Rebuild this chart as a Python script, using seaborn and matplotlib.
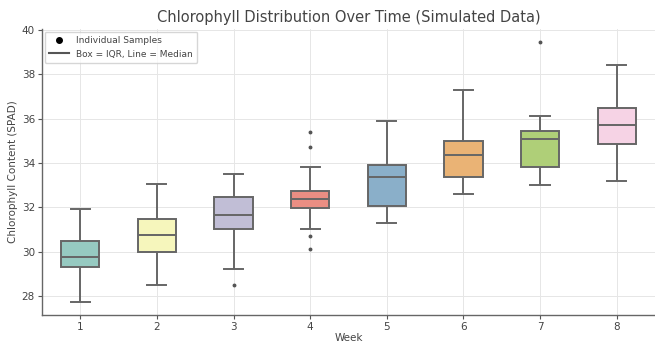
import matplotlib
matplotlib.use("Agg")
import matplotlib.pyplot as plt
from matplotlib.lines import Line2D
import seaborn as sns
import pandas as pd

weeks = [1, 2, 3, 4, 5, 6, 7, 8]
week1 = [27.73, 29.0, 29.32, 29.5, 29.75, 30.1, 30.47, 31.2, 31.92]
week2 = [28.48, 29.5, 29.98, 30.4, 30.77, 31.1, 31.47, 32.2, 33.05]
week3 = [28.48, 29.24, 31.03, 31.3, 31.65, 32.0, 32.49, 33.0, 33.5]
week4 = [30.13, 30.70, 31.03, 31.97, 32.1, 32.25, 32.40, 32.55, 32.65, 32.75, 33.84, 34.71, 35.38]
week5 = [31.30, 31.8, 32.07, 32.8, 33.35, 33.6, 33.93, 34.9, 35.88]
week6 = [32.60, 33.0, 33.35, 33.9, 34.38, 34.7, 34.98, 36.0, 37.29]
week7 = [33.02, 33.5, 33.81, 34.5, 35.09, 35.3, 35.46, 36.13, 39.46]
week8 = [33.20, 34.3, 34.86, 35.3, 35.73, 36.1, 36.46, 37.5, 38.43]
samples = [week1, week2, week3, week4, week5, week6, week7, week8]

rows = []
for w, vals in zip(weeks, samples):
    for v in vals:
        rows.append({"Week": w, "Chlorophyll": v})
df = pd.DataFrame(rows)

fig = plt.figure(figsize=(6.55, 3.44), dpi=100)
ax = fig.add_axes([0.064, 0.084, 0.936, 0.832])

sns.boxplot(data=df, x="Week", y="Chlorophyll", hue="Week", palette="Set3",
            legend=False, width=0.5, linewidth=1.4, linecolor="#666666",
            flierprops=dict(marker="o", markersize=1.8, markerfacecolor="#555555",
                            markeredgecolor="#555555"),
            ax=ax)

ax.grid(True, color="#e6e6e6", linewidth=0.7, linestyle="-")
ax.set_axisbelow(True)
for s in ["top", "right"]:
    ax.spines[s].set_visible(False)
for s in ["left", "bottom"]:
    ax.spines[s].set_color("#666666")
    ax.spines[s].set_linewidth(1.0)
ax.tick_params(colors="#555555", labelsize=7.5, length=3, pad=2, labelcolor="#444444")

ax.set_title("Chlorophyll Distribution Over Time (Simulated Data)", fontsize=10.5,
             color="#444444", pad=5)
ax.set_xlabel("Week", fontsize=7.5, color="#444444", labelpad=1)
ax.set_ylabel("Chlorophyll Content (SPAD)", fontsize=7.5, color="#444444", labelpad=3)
ax.set_yticks([28, 30, 32, 34, 36, 38, 40])

handles = [Line2D([0], [0], marker="o", color="w", markerfacecolor="black",
                  markeredgecolor="black", markersize=4, label="Individual Samples"),
           Line2D([0], [0], color="#555555", linewidth=1.5, label="Box = IQR, Line = Median")]
leg = ax.legend(handles=handles, loc="upper left", fontsize=6.5, frameon=True,
                borderpad=0.5, handlelength=2.2, labelcolor="#444444",
                borderaxespad=0.3)
leg.get_frame().set_edgecolor("#cccccc")

fig.savefig("out.png", dpi=100)
